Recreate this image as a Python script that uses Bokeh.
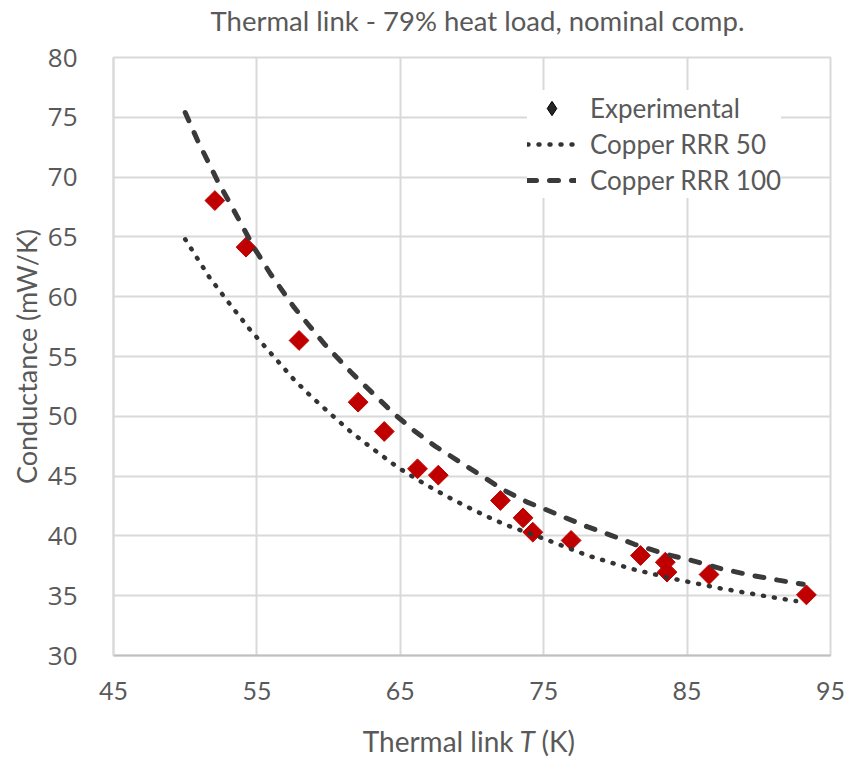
import numpy as np
from bokeh.plotting import figure
from bokeh.layouts import column
from bokeh.models import Range1d, FixedTicker, Legend, LegendItem, Label
from bokeh.embed import file_html
from bokeh.resources import INLINE

# ---- data ----
exp_T = [52.07, 54.24, 57.94, 62.06, 63.88, 66.2, 67.65, 71.98, 73.56, 74.24,
         76.91, 81.75, 83.48, 83.6, 86.53, 93.32]
exp_G = [68.04, 64.14, 56.34, 51.18, 48.73, 45.61, 45.08, 42.96, 41.51, 40.31,
         39.62, 38.36, 37.8, 36.97, 36.77, 35.07]

rrr50_T = [50.0, 51.7, 53.1, 54.55, 56.1, 57.6, 58.7, 59.9, 61.55, 62.95, 64.8,
           66.75, 68.8, 70.9, 72.3, 75.05, 78.1, 81.1, 84.1, 87.15, 90.3, 92.6]
rrr50_G = [64.8, 61.6, 59.4, 57.2, 55.1, 53.05, 51.75, 50.45, 48.7, 47.4, 45.75,
           44.3, 42.95, 41.7, 40.95, 39.75, 38.35, 37.25, 36.4, 35.65, 35.0, 34.55]

rrr100_T = [50.0, 50.85, 52.25, 53.4, 54.8, 55.95, 57.6, 59.7, 61.55, 64.57, 65.97,
            67.37, 69.0, 70.63, 72.26, 73.89, 75.05, 76.45, 78.08, 79.7, 81.33,
            83.43, 85.3, 87.4, 89.5, 91.35, 93.1]
rrr100_G = [75.4, 73.1, 69.7, 67.2, 64.1, 61.9, 59.1, 56.05, 53.7, 50.2, 48.8,
            47.55, 46.3, 45.05, 43.8, 42.8, 42.25, 41.55, 40.75, 40.05, 39.3,
            38.5, 37.95, 37.25, 36.7, 36.3, 35.95]

x_ticks = [45, 55, 65, 75, 85, 95]
y_ticks = [30, 35, 40, 45, 50, 55, 60, 65, 70, 75, 80]

title_text = "Thermal link - 79% heat load, nominal comp."
x_label_parts = ["Thermal link", "T", "(K)"]
y_label = "Conductance (mW/K)"
legend_labels = ["Experimental", "Copper RRR 50", "Copper RRR 100"]

TXT = "#595959"
GRID = "#D9D9D9"
W = 850
FRAME_L, FRAME_R = 113, 830   # pixel extent of the plotting frame


def text_strip(h):
    # column() aligns this strip's frame with the main frame, so its x range is
    # expressed in page pixels over the frame's extent
    f = figure(width=W, height=h, output_backend="svg", toolbar_location=None,
               x_range=Range1d(FRAME_L, FRAME_R), y_range=Range1d(0, h),
               x_axis_type=None, y_axis_type=None, min_border=0)
    f.xgrid.visible = False
    f.ygrid.visible = False
    f.outline_line_color = None
    f.background_fill_color = "white"
    f.border_fill_color = "white"
    return f


# ---- title strip ----
p_top = text_strip(40)
p_top.add_layout(Label(x=477, y=20, text=title_text, text_align="center",
                       text_baseline="middle", text_font="Lato",
                       text_font_size="27.5px", text_color=TXT))

# ---- main chart ----
p = figure(width=W, height=677, output_backend="svg", toolbar_location=None,
           x_range=Range1d(45, 95), y_range=Range1d(30, 80),
           min_border_left=FRAME_L, min_border_right=W - FRAME_R, min_border_top=17,
           min_border_bottom=62)
p.background_fill_color = "white"
p.border_fill_color = "white"
p.outline_line_color = GRID
p.outline_line_width = 2

p.xaxis.ticker = FixedTicker(ticks=x_ticks)
p.yaxis.ticker = FixedTicker(ticks=y_ticks)
for ax in (p.xaxis, p.yaxis):
    ax.major_tick_line_color = None
    ax.minor_tick_line_color = None
    ax.major_label_text_color = TXT
p.xaxis.axis_line_color = "#BFBFBF"
p.xaxis.axis_line_width = 2
p.yaxis.axis_line_color = GRID
p.yaxis.axis_line_width = 2
p.xaxis.major_label_text_font = "Lato"
p.xaxis.major_label_text_font_size = "25px"
p.xaxis.major_label_standoff = 20
p.yaxis.major_label_text_font = "Open Sans"
p.yaxis.major_label_text_font_size = "26px"
p.yaxis.major_label_standoff = 30

p.yaxis.axis_label = y_label
p.yaxis.axis_label_text_font = "Lato"
p.yaxis.axis_label_text_font_size = "27px"
p.yaxis.axis_label_text_font_style = "normal"
p.yaxis.axis_label_text_color = TXT
p.yaxis.axis_label_standoff = 2

p.xgrid.grid_line_color = GRID
p.xgrid.grid_line_width = 2
p.ygrid.grid_line_color = GRID
p.ygrid.grid_line_width = 2

# experimental points (red diamonds)
p.scatter(exp_T, exp_G, marker="square", angle=np.pi / 4, size=14,
          fill_color="#C00000", line_color="#C00000", line_width=1)

# model curves
r50 = p.line(rrr50_T, rrr50_G, line_color="#333333", line_width=4.5,
             line_dash="1 10", line_cap="round")
r100 = p.line(rrr100_T, rrr100_G, line_color="#3A3A3A", line_width=5,
              line_dash="9 13", line_cap="round")

# legend-only marker (black diamond as in the reference legend)
r_leg = p.scatter(exp_T, exp_G, marker="diamond", size=14, fill_color="#262626",
                  line_color="#000000", visible=False)

legend = Legend(items=[LegendItem(label=legend_labels[0], renderers=[r_leg]),
                       LegendItem(label=legend_labels[1], renderers=[r50]),
                       LegendItem(label=legend_labels[2], renderers=[r100])],
                location=(414, 457), glyph_width=49, glyph_height=36,
                spacing=0, padding=11, margin=0, label_standoff=14,
                label_height=36,
                label_text_font="Lato", label_text_font_size="26px",
                label_text_color=TXT, border_line_color=None,
                background_fill_color="white", background_fill_alpha=1.0,
                inactive_fill_alpha=0.0)
p.add_layout(legend, "center")

# ---- x-axis title strip (italic T) ----
p_bot = text_strip(40)
p_bot.add_layout(Label(x=513, y=17, text=x_label_parts[0], text_align="right",
                       text_baseline="middle", text_font="Lato",
                       text_font_size="28px", text_color=TXT))
p_bot.add_layout(Label(x=519, y=17, text=x_label_parts[1], text_align="left",
                       text_baseline="middle", text_font="Lato",
                       text_font_size="28px", text_font_style="italic",
                       text_color=TXT))
p_bot.add_layout(Label(x=541, y=17, text=x_label_parts[2], text_align="left",
                       text_baseline="middle", text_font="Lato",
                       text_font_size="28px", text_color=TXT))

layout = column(p_top, p, p_bot, spacing=0)
open("out.html", "w").write(file_html(layout, INLINE))
